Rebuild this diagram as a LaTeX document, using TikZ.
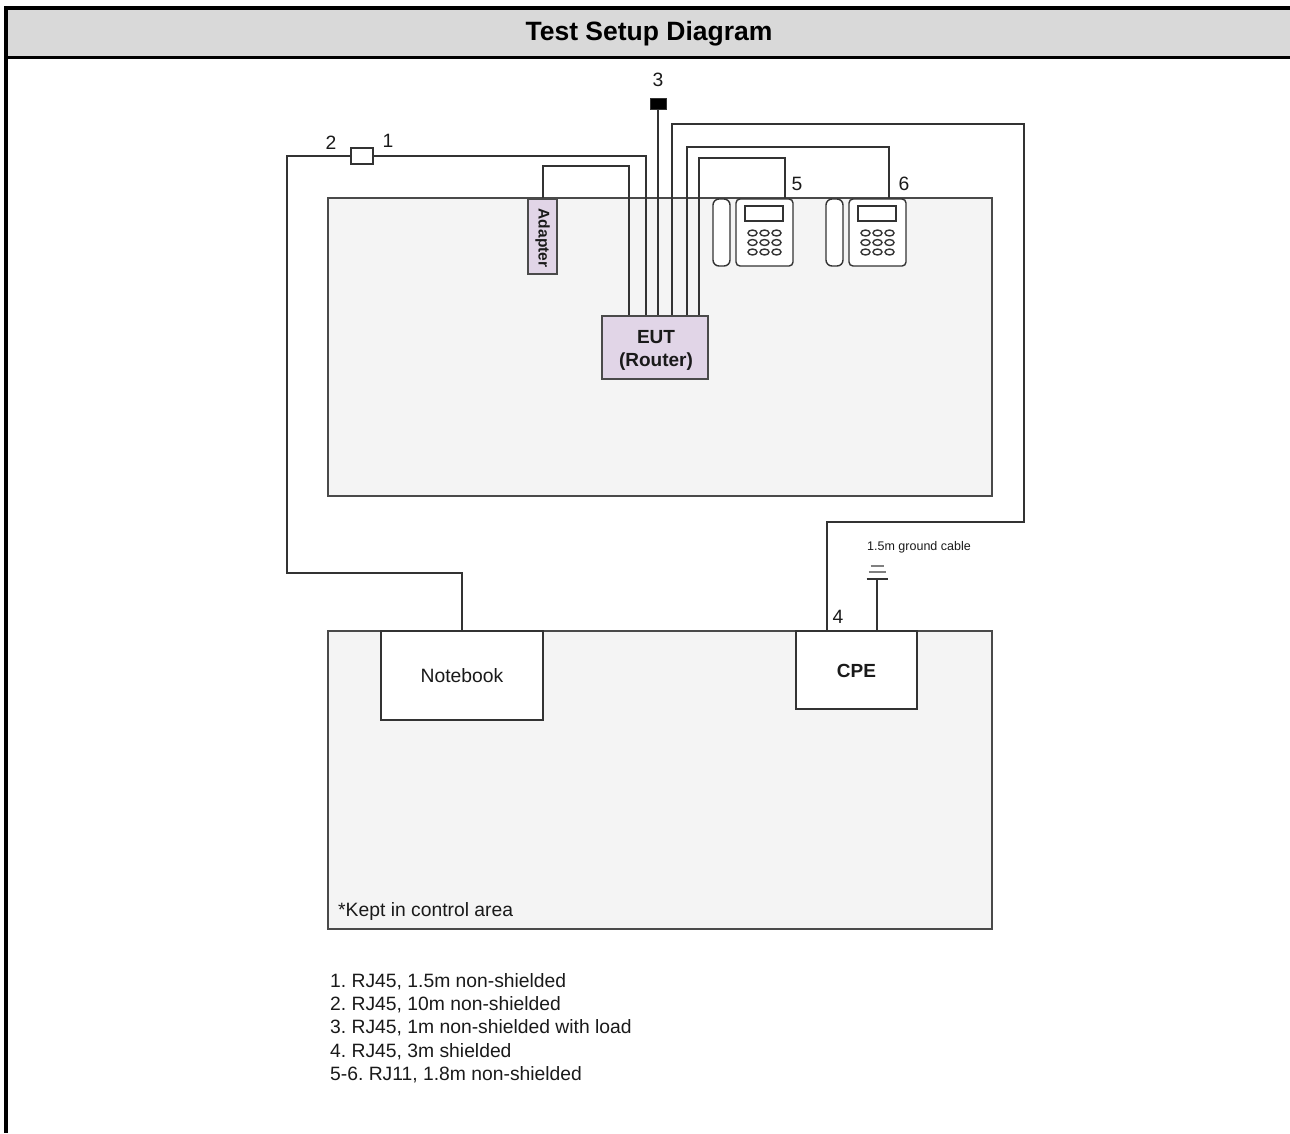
\documentclass[tikz,border=0pt]{standalone}
\usepackage{fontspec}
\setmainfont{Liberation Sans}
\frenchspacing
\definecolor{cable}{HTML}{333333}
\definecolor{edge}{HTML}{4a4a4a}
\definecolor{areafill}{HTML}{F4F4F4}
\definecolor{barfill}{HTML}{D9D9D9}
\definecolor{lav}{HTML}{E1D5E7}
\definecolor{txt}{HTML}{1a1a1a}
\tikzset{
  lbl/.style={font=\fontsize{19.3}{22}\selectfont, inner sep=0pt, text=txt},
  smalllbl/.style={font=\fontsize{12.5}{15}\selectfont, inner sep=0pt, text=txt},
  area/.style={draw=edge, fill=areafill, line width=1.6pt, inner sep=0pt},
  devbox/.style={draw=cable, fill=white, line width=1.6pt, inner sep=0pt},
  lavbox/.style={draw=edge, fill=lav, line width=1.6pt, inner sep=0pt},
  wire/.style={draw=cable, line width=1.8pt},
  handset/.style={draw=cable, fill=white, line width=1.4pt, rounded corners=6pt, minimum width=17pt, minimum height=67pt, inner sep=0pt},
  phbase/.style={draw=cable, fill=white, line width=1.4pt, rounded corners=4pt, minimum width=57pt, minimum height=67pt, inner sep=0pt},
  screen/.style={draw=cable, fill=white, line width=1.4pt, minimum width=38pt, minimum height=15pt, inner sep=0pt},
  phone/.pic={
    \node[handset] (-hs) at (-43,0) {};
    \node[phbase] (-base) at (0,0) {};
    \node[screen] (-scr) at (-0.5,-19) {};
    \foreach \i in {-12,0,12}
      \foreach \j in {0.5,10,19.5}
        \draw[cable, line width=1.4pt] (\i,\j) ellipse [x radius=4.5pt, y radius=3pt];
  }
}
\begin{document}
\begin{tikzpicture}[x=1pt,y=-1pt]
\useasboundingbox (0,0) rectangle (1290,1133);
% frame and title bar
\fill[barfill] (8,10) rectangle (1290,56);
\fill[black] (4,6) rectangle (1290,10);
\fill[black] (4,6) rectangle (8,1133);
\fill[black] (8,56) rectangle (1290,58.5);
\node[font=\bfseries\fontsize{26.5}{30}\selectfont, inner sep=0pt] (title) at (649,34) {Test Setup Diagram};

% areas
\node[area, minimum width=664pt, minimum height=298pt] (upper) at (660,347) {};
\node[area, minimum width=664pt, minimum height=298pt] (lower) at (660,780) {};
\node[lbl, anchor=base west] (kept) at (338,916) {*Kept in control area};

% devices
\node[devbox, minimum width=162pt, minimum height=89pt] (nb) at (462,675.5) {};
\node[lbl] (nbt) at (462,676) {Notebook};
\node[devbox, minimum width=121pt, minimum height=78pt] (cpe) at (856.5,670) {};
\node[lbl, font=\bfseries\fontsize{19}{22}\selectfont] (cpet) at (856.5,671) {CPE};
\node[lavbox, minimum width=106pt, minimum height=63pt] (eut) at (655,347.5) {};
\node[align=center, font=\bfseries\fontsize{19}{23}\selectfont, text=txt, inner sep=0pt] (eutt) at (656,350) {EUT\\(Router)};
\node[lavbox, minimum width=29pt, minimum height=75pt] (ad) at (542.5,236.5) {};
\node[font=\bfseries\fontsize{15.5}{18}\selectfont, rotate=-90, inner sep=0pt, text=txt] (adt) at (542.5,238) {Adapter};
\node[draw=cable, fill=black, line width=1pt, minimum width=16pt, minimum height=11pt, inner sep=0pt] (load) at (658,103.5) {};
\node[devbox, line width=1.5pt, minimum width=22pt, minimum height=16pt] (conn) at (362,156) {};

% phones
\pic (ph5) at (764.5,232.5) {phone};
\pic (ph6) at (877.5,232.5) {phone};

% cable coordinates
\coordinate (c1b) at (646,156);
\coordinate (c2a) at (287,156);
\coordinate (c2b) at (287,573);
\coordinate (ada) at (543,166);
\coordinate (adb) at (629,166);
\coordinate (c4a) at (672,124);
\coordinate (c4b) at (1024,124);
\coordinate (c4c) at (1024,522);
\coordinate (c4d) at (827,522);
\coordinate (c6a) at (687,147);
\coordinate (c6b) at (889,147);
\coordinate (c5a) at (699,158);
\coordinate (c5b) at (785,158);
\coordinate (g) at (877,579);

% cables
\draw[wire] (conn.east) -- (c1b) -- (c1b |- eut.north);
\draw[wire] (conn.west) -- (c2a) -- (c2b) -- (c2b -| nb.north) -- (nb.north);
\draw[wire] (ad.north -| ada) -- (ada) -- (adb) -- (adb |- eut.north);
\draw[wire] (load.south) -- (load.south |- eut.north);
\draw[wire] (c4a |- eut.north) -- (c4a) -- (c4b) -- (c4c) -- (c4d) -- (c4d |- cpe.north);
\draw[wire] (c6a |- eut.north) -- (c6a) -- (c6b) -- (c6b |- ph6-base.north);
\draw[wire] (c5a |- eut.north) -- (c5a) -- (c5b) -- (c5b |- ph5-base.north);
% ground
\draw[wire] (g |- cpe.north) -- (g);
\draw[cable, line width=1.8pt] (g) ++(-10.5,0) -- ++(21,0);
\draw[gray, line width=1.5pt] (g) ++(-8.5,-7) -- ++(17,0);
\draw[gray, line width=1.5pt] (g) ++(-6.5,-13) -- ++(13,0);
\node[smalllbl] (gl) at (919,547) {1.5m ground cable};

% number labels
\node[lbl] (n3) at (658,80) {3};
\node[lbl] (n2) at (331,143) {2};
\node[lbl] (n1) at (388,141) {1};
\node[lbl] (n5) at (797,184) {5};
\node[lbl] (n6) at (904,184) {6};
\node[lbl] (n4) at (838,617) {4};

% legend
\node[lbl, anchor=base west] (leg1) at (330,987) {1. RJ45, 1.5m non-shielded};
\node[lbl, anchor=base west] (leg2) at (330,1010.3) {2. RJ45, 10m non-shielded};
\node[lbl, anchor=base west] (leg3) at (330,1033.6) {3. RJ45, 1m non-shielded with load};
\node[lbl, anchor=base west] (leg4) at (330,1057) {4. RJ45, 3m shielded};
\node[lbl, anchor=base west] (leg5) at (330,1080.3) {5-6. RJ11, 1.8m non-shielded};
\end{tikzpicture}
\end{document}
